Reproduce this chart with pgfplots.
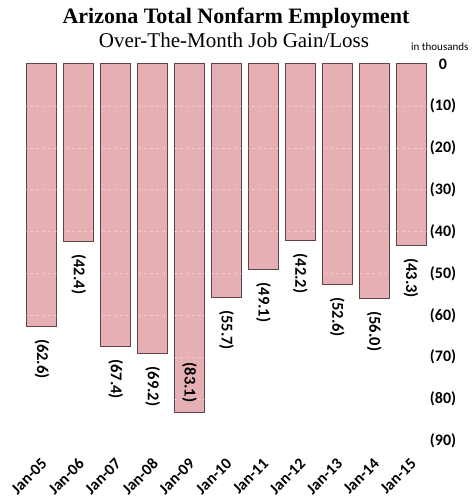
\documentclass[border=0pt]{standalone}
\usepackage{pgfplots}
\pgfplotsset{compat=1.18}
\usepackage{fontspec}
\setmainfont{Carlito}
\newfontfamily\titlefont{Liberation Serif}
\definecolor{barfill}{HTML}{E6AFB3}
\definecolor{bardraw}{HTML}{5E4646}
\begin{document}
\begin{tikzpicture}[x=1pt,y=1pt]
\useasboundingbox (0,0) rectangle (472,498);
\node[font=\titlefont\fontsize{22}{24}\selectfont\bfseries] at (236,480) {Arizona Total Nonfarm Employment};
\node[font=\titlefont\fontsize{21}{23}\selectfont] at (234,458) {Over-The-Month Job Gain/Loss};
\node[font=\fontsize{11}{12}\selectfont, anchor=east] at (472,451) {in thousands};
\begin{axis}[
  at={(23.5pt,57pt)}, anchor=south west,
  width=406pt, height=377pt, scale only axis,
  xmin=-0.5, xmax=10.5, ymin=-90, ymax=0,
  axis line style={draw=none},
  axis on top,
  major grid style={white, dashed, opacity=0.35},
  major tick length=0pt,
  ytick={0,-10,-20,-30,-40,-50,-60,-70,-80,-90},
  yticklabels={0,(10),(20),(30),(40),(50),(60),(70),(80),(90)},
  extra y ticks={-10,-20,-30,-40,-50,-60,-70,-80},
  extra y tick style={grid=major, yticklabels={}},
  yticklabel pos=right,
  yticklabel style={font=\fontsize{16}{18}\selectfont\bfseries, anchor=west, text width=28pt, align=center, xshift=-4pt},
  xtick={0,...,10},
  xticklabels={Jan-05,Jan-06,Jan-07,Jan-08,Jan-09,Jan-10,Jan-11,Jan-12,Jan-13,Jan-14,Jan-15},
  xticklabel style={font=\fontsize{16}{18}\selectfont\bfseries, rotate=45, anchor=north east, xshift=-9pt, yshift=-7pt},
  point meta=explicit symbolic,
  nodes near coords,
]
\addplot[ybar, bar width=30pt, bar shift=0pt, fill=barfill, draw=bardraw, line width=1pt,
  every node near coord/.style={font=\fontsize{16.5}{18}\selectfont\bfseries, yshift=-9pt, rotate=-90, anchor=west}]
  table[meta=lab] {
x y lab
0 -62.6 (62.6)
1 -42.4 (42.4)
2 -67.4 (67.4)
3 -69.2 (69.2)
5 -55.7 (55.7)
6 -49.1 (49.1)
7 -42.2 (42.2)
8 -52.6 (52.6)
9 -56.0 (56.0)
10 -43.3 (43.3)
};
\addplot[ybar, bar width=30pt, bar shift=0pt, fill=barfill, draw=bardraw, line width=1pt,
  every node near coord/.style={font=\fontsize{16.5}{18}\selectfont\bfseries, yshift=6pt, rotate=-90, anchor=east}]
  table[meta=lab] {
x y lab
4 -83.1 (83.1)
};
\end{axis}
\end{tikzpicture}
\end{document}
